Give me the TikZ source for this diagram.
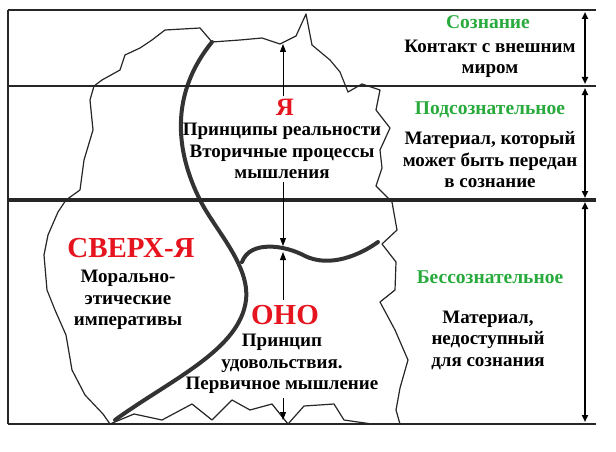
\documentclass[tikz,border=0pt]{standalone}
\usepackage{fontspec}
\setmainfont{Liberation Serif}
\usetikzlibrary{arrows.meta}
\definecolor{grn}{RGB}{40,170,60}
\definecolor{rd}{RGB}{230,20,30}
\begin{document}
\begin{tikzpicture}[x=1pt,y=-1pt,
  txt/.style={font=\bfseries\fontsize{19}{21.5}\selectfont,align=center,inner sep=0pt},
  gtxt/.style={font=\bfseries\fontsize{19.5}{21}\selectfont,text=grn,inner sep=0pt},
  rtxt/.style={font=\bfseries\fontsize{29}{31}\selectfont,text=rd,inner sep=0pt},
  hline/.style={line width=2.6pt,black!85},
  dim/.style={line width=2pt,{Triangle[length=7pt,width=6pt]}-{Triangle[length=7pt,width=6pt]}},
  arr/.style={line width=0.9pt,-{Triangle[length=8pt,width=6pt]}},
  outline/.style={line width=1.2pt,black!85,line join=round},
  bound/.style={line width=4pt,black!80,line cap=round}]
\useasboundingbox (0,0) rectangle (616,452);
% blob outline
\draw[outline] (110,424) -- (103,414) -- (85,395) -- (72,370) -- (66,335) -- (55,310) -- (47,290) -- (44,255) -- (48,235) -- (58,212) -- (66,200) -- (80,190) -- (84,160) -- (93,130) -- (90,100) -- (94,86)
 -- (102,80) -- (120,70) -- (125,55) -- (140,48) -- (152,40) -- (165,30) -- (200,28) -- (212,42) -- (240,40) -- (262,38) -- (280,44) -- (296,36) -- (306,14) -- (312,45) -- (330,60) -- (340,72) -- (348,92) -- (362,84) -- (380,90) -- (376,110) -- (390,128) -- (380,150) -- (382,168) -- (376,186) -- (392,202) -- (397,230) -- (382,244) -- (396,262) -- (395,290) -- (380,302) -- (395,330) -- (408,360) -- (400,388) -- (396,410) -- (400,424)
 -- (372,424) -- (344,420) -- (334,404) -- (304,406) -- (288,424) -- (272,404) -- (250,410) -- (232,400) -- (212,420) -- (192,404) -- (162,420) -- (134,414) -- cycle;
% boundaries
\draw[bound] (115,420) .. controls (170,380) and (240,350) .. (246,300) .. controls (250,265) and (215,230) .. (200,200) .. controls (180,160) and (165,100) .. (212,42);
\draw[bound] (242,262) .. controls (250,240) and (285,245) .. (305,256) .. controls (330,268) and (360,255) .. (378,242);
% horizontal lines
\draw[line width=2.2pt,black!85] (8,10) -- (596,10);
\draw[hline] (8,86) -- (596,86);
\draw[line width=3.6pt,black!85] (8,200) -- (596,200);
\draw[hline] (8,424) -- (596,424);
\draw[line width=2.2pt,black!85] (8,10) -- (8,424);
% right dimension arrows
\coordinate (r1) at (585,12); \coordinate (r2) at (585,84);
\coordinate (r3) at (585,88); \coordinate (r4) at (585,198);
\coordinate (r5) at (585,202); \coordinate (r6) at (585,422);
\draw[dim] (r1) -- (r2); \draw[dim] (r3) -- (r4); \draw[dim] (r5) -- (r6);
% middle arrows
\coordinate (m0) at (283,96); \coordinate (m1) at (283,44);
\coordinate (m2) at (283,182); \coordinate (m3) at (283,246);
\coordinate (m4) at (283,300); \coordinate (m5) at (283,252);
\coordinate (m6) at (283,398); \coordinate (m7) at (283,420);
\draw[arr] (m0) -- (m1); \draw[arr] (m2) -- (m3); \draw[arr] (m4) -- (m5); \draw[arr] (m6) -- (m7);
% right texts
\node[gtxt] (c1) at (488,22) {Сознание};
\node[txt] (c2) at (490,59) {Контакт с внешним\\миром};
\node[gtxt] (p1) at (490,110) {Подсознательное};
\node[txt] (p2) at (490,160) {Материал, который\\может быть передан\\в сознание};
\node[gtxt] (b1) at (490,277) {Бессознательное};
\node[txt] (b2) at (488,340) {Материал,\\недоступный\\для сознания};
% inner texts
\node[rtxt,font=\bfseries\fontsize{25}{27}\selectfont] (ya) at (285,107) {Я};
\node[txt] (ya2) at (282,151) {Принципы реальности\\Вторичные процессы\\мышления};
\node[rtxt] (sv) at (131,248) {СВЕРХ-Я};
\node[txt] (sv2) at (128,300) {Морально-\\этические\\императивы};
\node[rtxt] (ono) at (285,315) {ОНО};
\node[txt] (ono2) at (282,364) {Принцип\\удовольствия.\\Первичное мышление};
\end{tikzpicture}
\end{document}
